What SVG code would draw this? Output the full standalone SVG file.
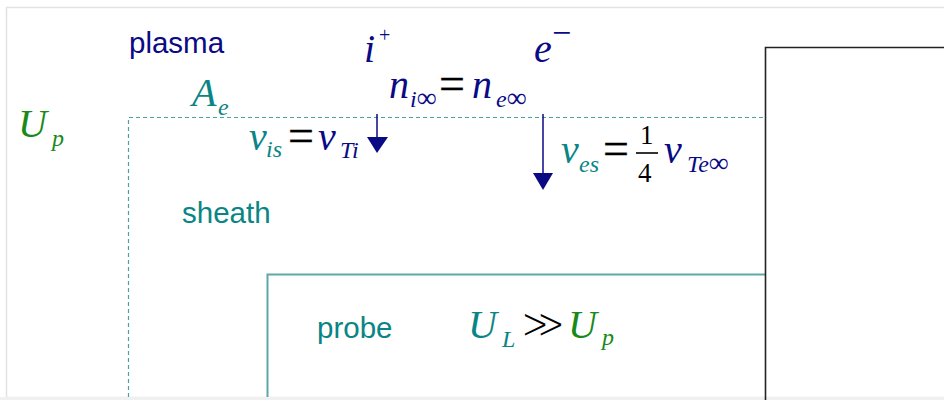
<svg xmlns="http://www.w3.org/2000/svg" width="944" height="400" viewBox="0 0 944 400">
<defs>
<style>
.sans{font-family:"Liberation Sans",Arial,sans-serif;font-size:29.5px}
.m{font-family:"Liberation Serif","Times New Roman",serif;font-style:italic;font-size:40px}
.s{font-family:"Liberation Serif","Times New Roman",serif;font-style:italic;font-size:24px}
.op{font-family:"Liberation Serif","DejaVu Serif",serif;font-size:46px;fill:#000;stroke:#000;stroke-width:0.3}
.num{font-family:"Liberation Serif","Times New Roman",serif;font-size:27px;fill:#000}
.navy{fill:#0a0a84}
.teal{fill:#0a8585}
.green{fill:#178a17}
.arrow{stroke:#0a0a84;stroke-width:1.5;fill:none}
.head{fill:#0a0a84}
</style>
</defs>
<rect x="0" y="0" width="944" height="400" fill="#fff"/>
<rect x="6.5" y="7.5" width="950" height="390" fill="none" stroke="#e2e2e2" stroke-width="1.5"/>
<rect x="0" y="397" width="944" height="3" fill="#f0f0f0"/>

<g id="sheath-boundary">
<path d="M128.5,397 V117.5 H765" fill="none" stroke="#4aa3a3" stroke-width="1.2" stroke-dasharray="4,3"/>
</g>
<g id="probe-box">
<path d="M267.5,397 V274.5 H765" fill="none" stroke="#5fa8a8" stroke-width="2"/>
</g>
<g id="probe-holder">
<path d="M765.5,400 V47.5 H944" fill="none" stroke="#222" stroke-width="1.6"/>
</g>

<g id="plasma"><text class="sans navy" x="129" y="53">plasma</text></g>
<g id="sheath"><text class="sans teal" x="182" y="223">sheath</text></g>
<g id="probe"><text class="sans teal" x="317" y="338">probe</text></g>

<g id="ion">
<text class="m navy" x="364" y="62">i</text>
<text class="navy" x="379" y="42" font-family="Liberation Serif,serif" font-size="20">+</text>
</g>
<g id="electron">
<text class="m navy" x="534" y="62">e</text>
<text class="navy" x="552" y="44" font-family="Liberation Serif,serif" font-size="34">−</text>
</g>
<g id="density">
<text class="m navy" x="389" y="98">n</text>
<text class="s navy" x="410" y="107">i<tspan font-size="28" font-style="normal">∞</tspan></text>
<text class="op" x="439" y="99">=</text>
<text class="m navy" x="472" y="98">n</text>
<text class="s navy" x="496" y="107">e<tspan font-size="28" font-style="normal">∞</tspan></text>
</g>
<g id="area">
<text class="m teal" x="192" y="106" font-size="32">A</text>
<text class="s teal" x="218" y="115" font-size="22">e</text>
</g>
<g id="plasma-potential">
<text class="m green" x="18" y="137">U</text>
<text class="s green" x="52" y="146" font-size="25">p</text>
</g>
<g id="ion-velocity">
<text class="m teal" x="249" y="150">v</text>
<text class="s teal" x="266" y="157">is</text>
<text class="op" x="288" y="151">=</text>
<text class="m navy" x="318" y="150">v</text>
<text class="s navy" x="340" y="158">Ti</text>
</g>
<g id="electron-velocity">
<text class="m teal" x="561" y="163">v</text>
<text class="s teal" x="579" y="172">es</text>
<text class="op" x="603" y="164">=</text>
<text class="num" x="640" y="144">1</text>
<line x1="636" y1="153" x2="658" y2="153" stroke="#000" stroke-width="1.6"/>
<text class="num" x="638" y="182">4</text>
<text class="m navy" x="664" y="163">v</text>
<text class="s navy" x="687" y="172">Te<tspan font-size="28" font-style="normal">∞</tspan></text>
</g>
<g id="probe-potential">
<text class="m teal" x="468" y="338">U</text>
<text class="s teal" x="502" y="347">L</text>
<text x="521" y="338" font-family="DejaVu Serif,serif" font-size="42" fill="#000" stroke="#fff" stroke-width="1.6">≫</text>
<text class="m green" x="568" y="338">U</text>
<text class="s green" x="602" y="345" font-size="25">p</text>
</g>

<g id="connectors">
<line class="arrow" x1="377" y1="114" x2="377" y2="139"/>
<polygon class="head" points="367,137 388,137 377,153"/>
<line class="arrow" x1="543" y1="114" x2="543" y2="175"/>
<polygon class="head" points="533,173 553,173 543,190"/>
</g>
</svg>
